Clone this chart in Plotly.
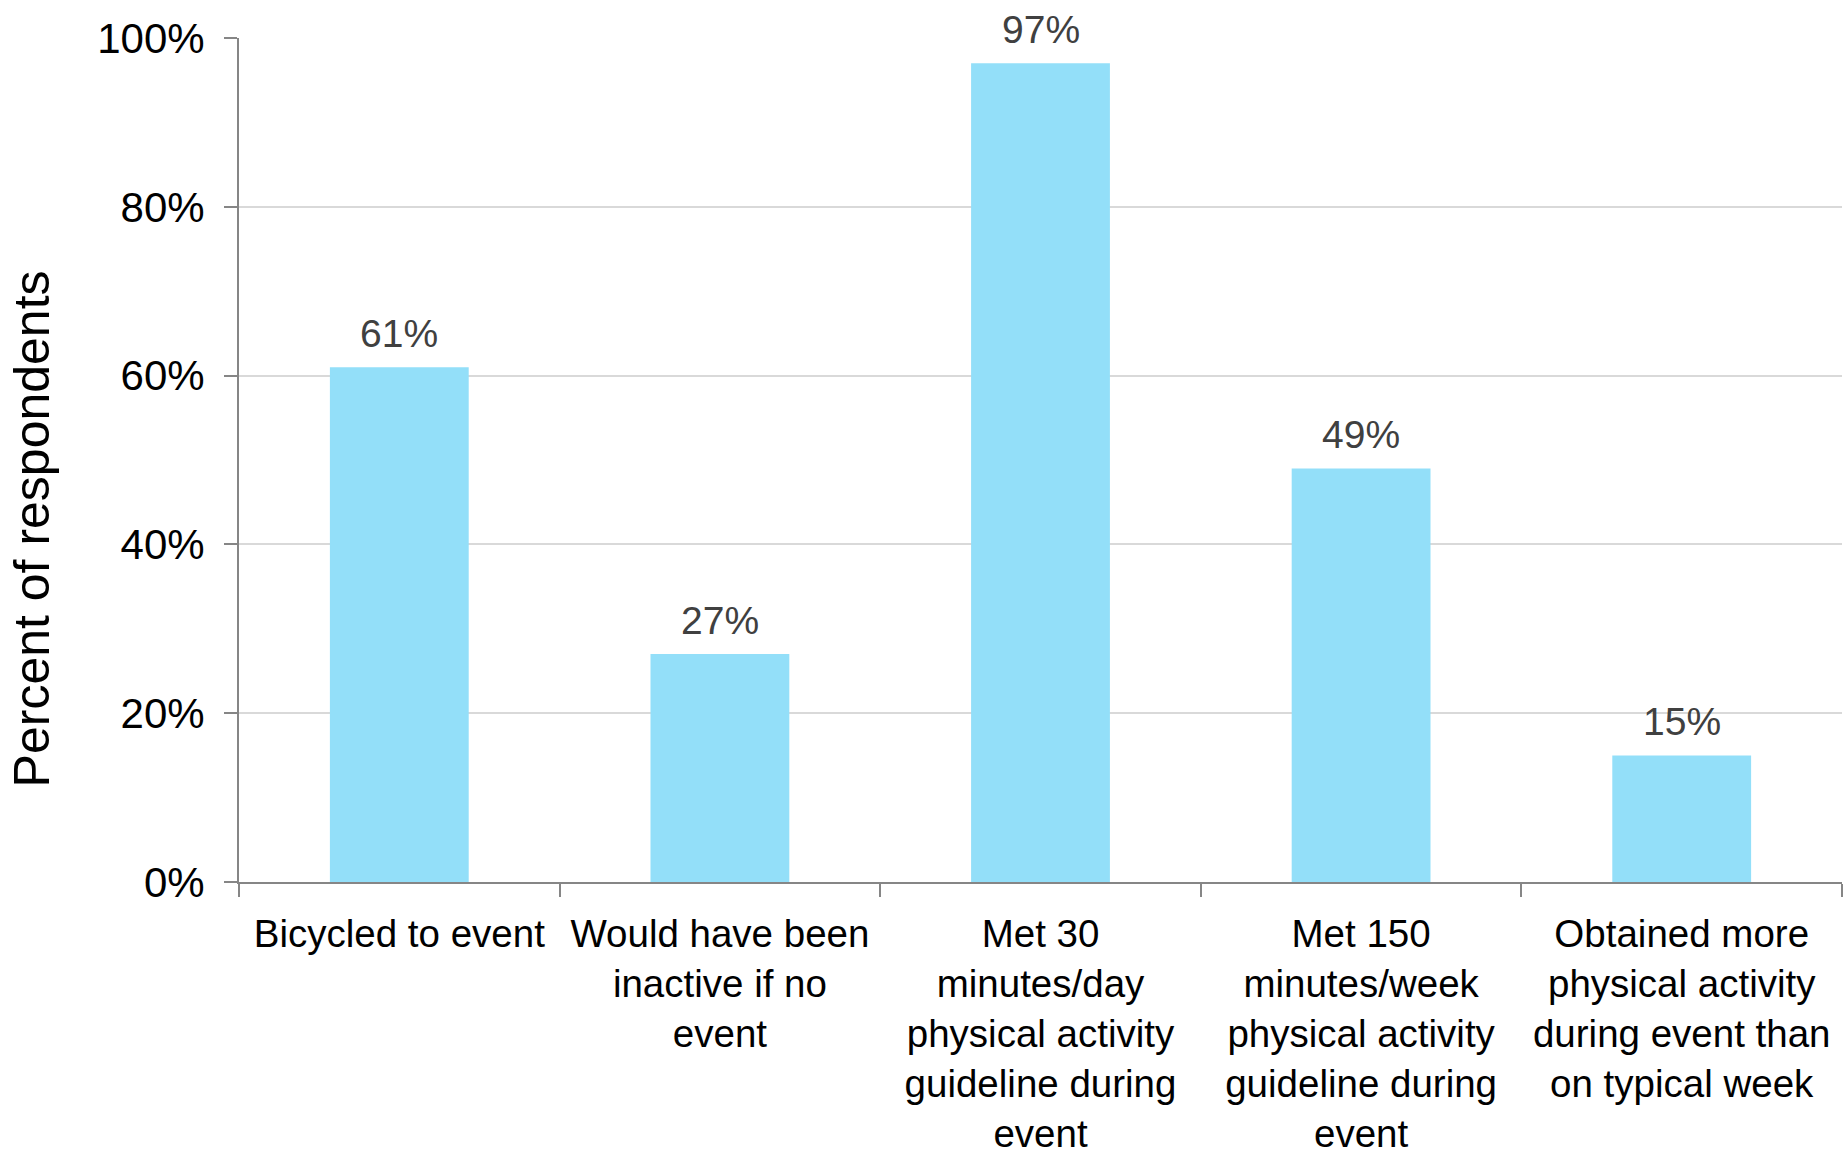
import plotly.graph_objects as go

categories = [
    "Bicycled to event",
    "Would have been<br>inactive if no<br>event",
    "Met 30<br>minutes/day<br>physical activity<br>guideline during<br>event",
    "Met 150<br>minutes/week<br>physical activity<br>guideline during<br>event",
    "Obtained more<br>physical activity<br>during event than<br>on typical week",
]
values = [0.61, 0.27, 0.97, 0.49, 0.15]
labels = ["61%", "27%", "97%", "49%", "15%"]
y_ticks = [0, 0.2, 0.4, 0.6, 0.8, 1.0]
y_tick_text = ["0%", "20%", "40%", "60%", "80%", "100%"]

FONT = "Liberation Sans, Arial, sans-serif"

fig = go.Figure()
fig.add_trace(go.Bar(
    x=categories, y=values,
    marker=dict(color="#93DFF9", line=dict(width=0)),
    hoverinfo="skip",
))

for c, v, t in zip(categories, values, labels):
    fig.add_annotation(
        x=c, y=v, xref="x", yref="y", text=t, showarrow=False,
        yanchor="middle", yshift=34,
        font=dict(family=FONT, size=39, color="#404040"),
    )

fig.add_annotation(
    x=-0.129, y=0.418, xref="paper", yref="paper",
    text="Percent of respondents", textangle=-90, showarrow=False,
    xanchor="center", yanchor="middle",
    font=dict(family=FONT, size=50, color="#000000"),
)

fig.update_layout(
    width=1845, height=1154,
    margin=dict(l=239, r=3, t=38, b=272),
    paper_bgcolor="white", plot_bgcolor="white",
    bargap=0.567,
    showlegend=False,
    font=dict(family=FONT, color="#000000"),
)
fig.update_xaxes(
    type="category",
    automargin=False,
    tickson="boundaries",
    ticks="outside", ticklen=13, tickwidth=2, tickcolor="#868686",
    showline=True, linecolor="#868686", linewidth=2,
    showgrid=False,
    tickfont=dict(family=FONT, size=38.5, color="#000000"),
    ticklabelstandoff=17,
    tickangle=0,
)
fig.update_yaxes(
    range=[0, 1.0],
    automargin=False,
    tickvals=y_ticks, ticktext=y_tick_text,
    ticks="outside", ticklen=13, tickwidth=2, tickcolor="#868686",
    showline=True, linecolor="#868686", linewidth=2,
    showgrid=True, gridcolor="#D9D9D9", gridwidth=2,
    zeroline=False,
    tickfont=dict(family=FONT, size=42, color="#000000"),
    ticklabelstandoff=11,
)

fig.write_html("out.html")
